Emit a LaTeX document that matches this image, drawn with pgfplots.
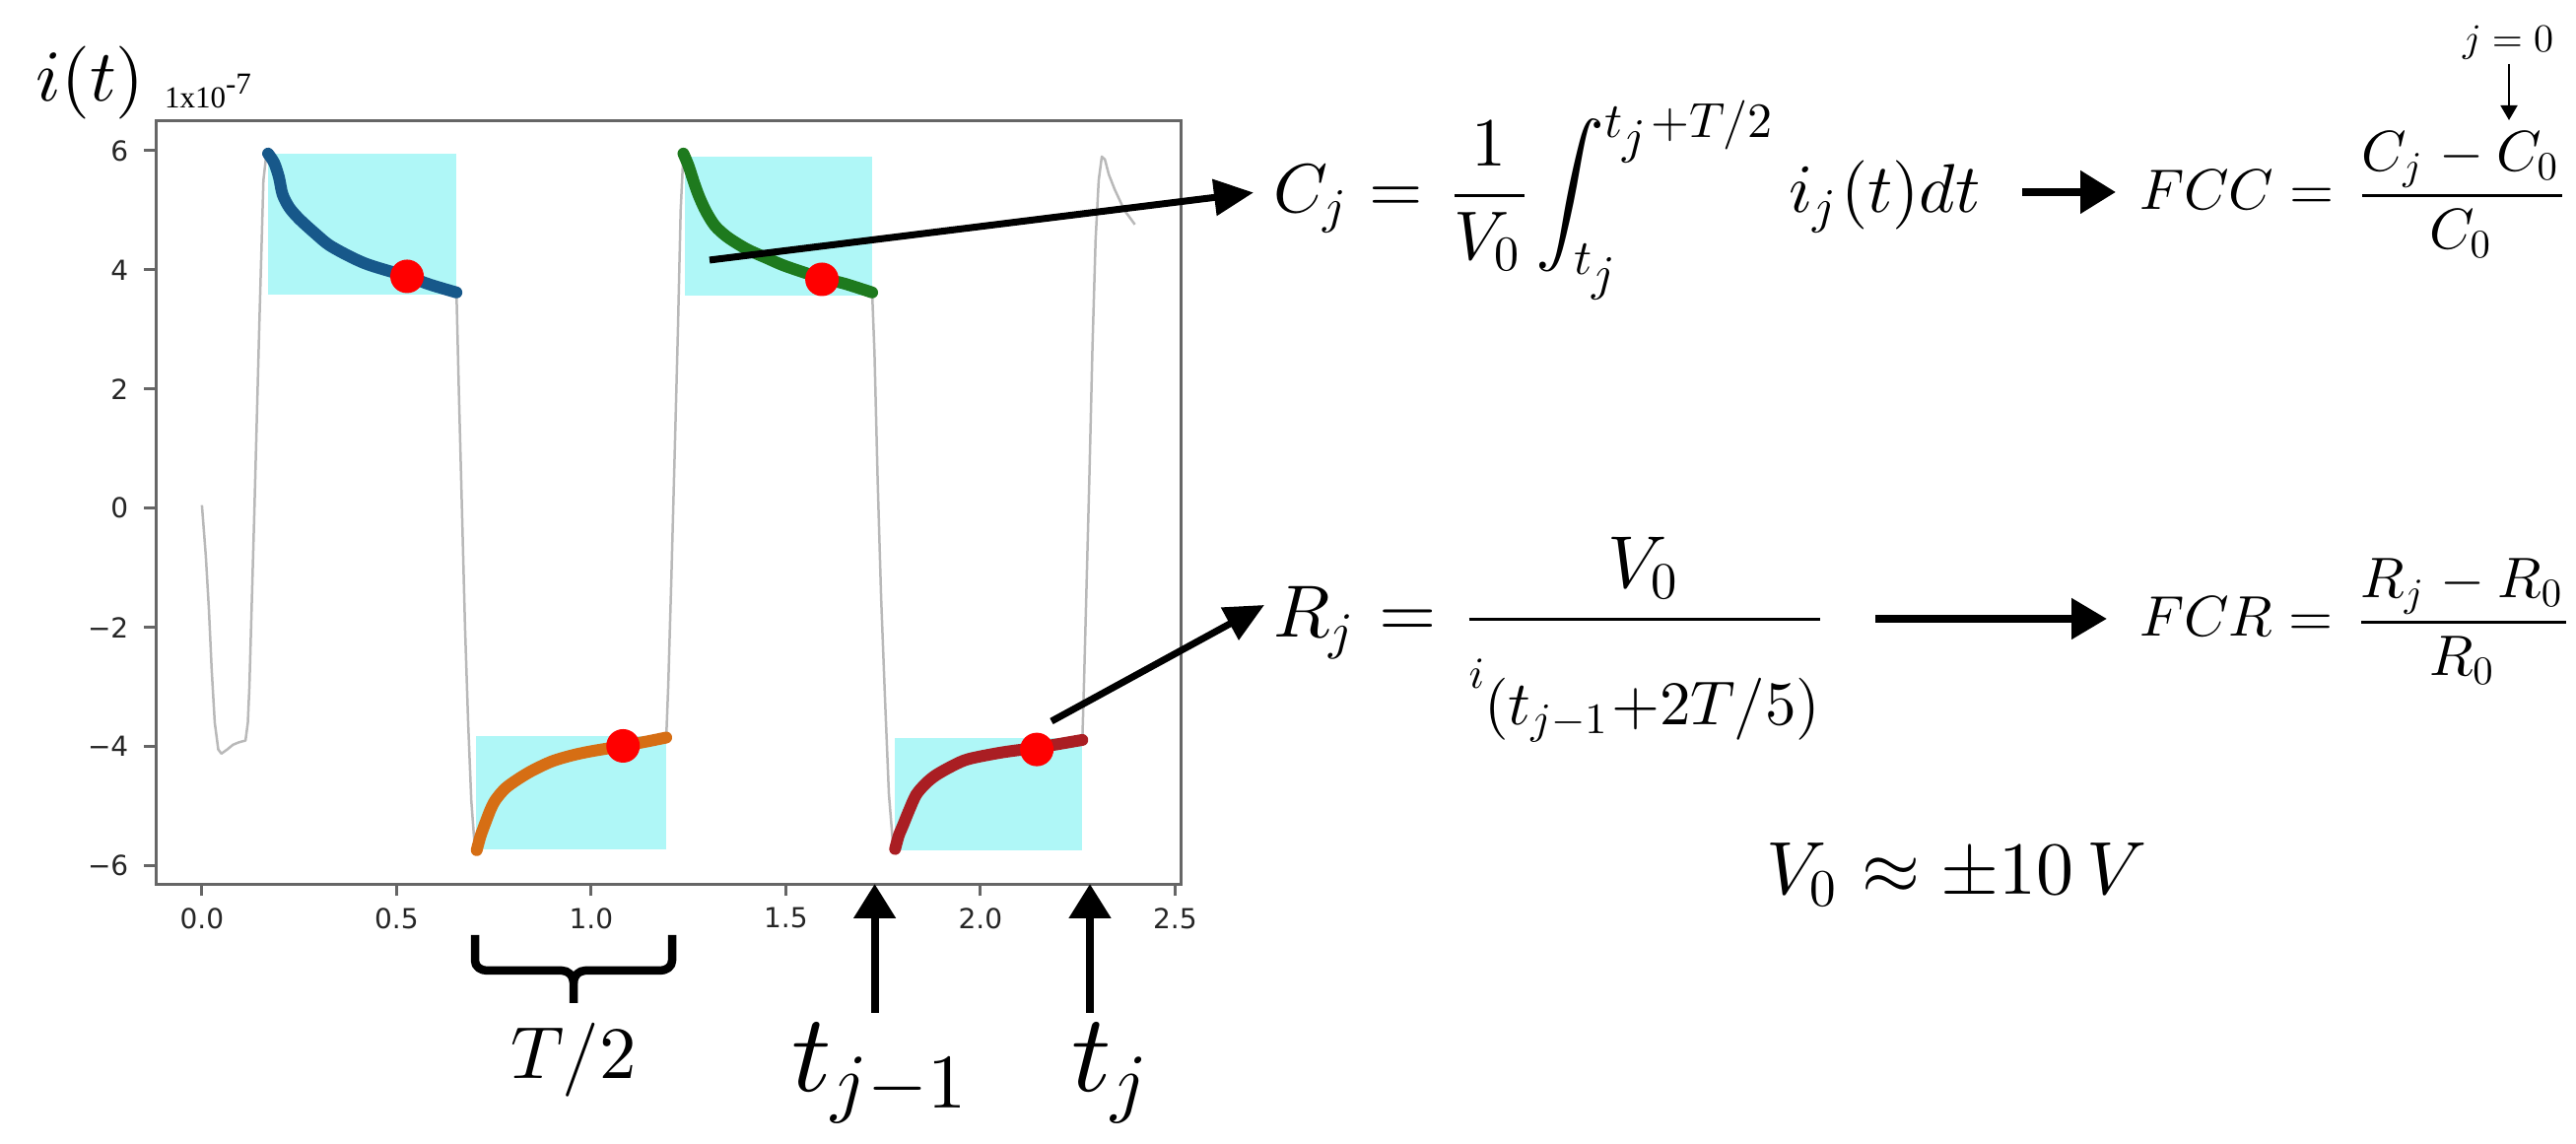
\documentclass[border=0pt]{standalone}
\usepackage[no-math]{fontspec}
\usepackage{amsmath}
\usepackage{pgfplots}
\pgfplotsset{compat=1.18}
\usetikzlibrary{arrows.meta}

% one design size for every math size, as matplotlib's mathtext does
\DeclareFontShape{OT1}{cmr}{m}{n}{<->cmr10}{}
\DeclareFontShape{OML}{cmm}{m}{it}{<->cmmi10}{}
\DeclareFontShape{OMS}{cmsy}{m}{n}{<->cmsy10}{}
\DeclareFontShape{OMX}{cmex}{m}{n}{<->cmex10}{}

\newfontfamily\tickfont{DejaVu Sans}
\newfontfamily\timesfont{Liberation Serif}

\definecolor{boxcyan}{RGB}{175,247,247}
\definecolor{cblue}{RGB}{23,88,138}
\definecolor{corange}{RGB}{214,110,20}
\definecolor{cgreen}{RGB}{30,122,30}
\definecolor{cred}{RGB}{170,30,35}
\definecolor{cgrey}{RGB}{185,185,185}

\begin{document}
\begin{tikzpicture}
\begin{axis}[
    at={(15.83pt,26.37pt)}, anchor=south west,
    width=104pt, height=77.53pt, scale only axis,
    xmin=-0.118, xmax=2.515, ymin=-6.31, ymax=6.51,
    axis line style={draw=black!60, line width=0.3pt},
    tick align=outside, xtick pos=left, ytick pos=left,
    major tick length=1.2pt,
    tick style={black!60, line width=0.3pt},
    xtick={0,0.5,1,1.5,2,2.5},
    xticklabels={0.0,0.5,1.0,1.5,2.0,2.5},
    ytick={-6,-4,-2,0,2,4,6},
    yticklabels={−6,−4,−2,0,2,4,6},
    ticklabel style={font=\tickfont\fontsize{2.8}{3}\selectfont, text=black!85},
    yticklabel style={anchor=east, inner sep=0pt, xshift=-1.4pt},
    xticklabel style={anchor=north, inner sep=0pt, yshift=-1.0pt},
]
% shaded half periods
\addplot[fill=boxcyan, draw=none] coordinates {(0.169,3.59) (0.654,3.59) (0.654,5.95) (0.169,5.95)};
\addplot[fill=boxcyan, draw=none] coordinates {(0.705,-5.73) (1.193,-5.73) (1.193,-3.82) (0.705,-3.82)};
\addplot[fill=boxcyan, draw=none] coordinates {(1.241,3.57) (1.722,3.57) (1.722,5.90) (1.241,5.90)};
\addplot[fill=boxcyan, draw=none] coordinates {(1.781,-5.74) (2.262,-5.74) (2.262,-3.86) (1.781,-3.86)};

% full current trace
\addplot[cgrey, line width=0.25pt, line join=round] coordinates {
 (0,0.05) (0.01,-0.8) (0.018,-1.7) (0.025,-2.7) (0.033,-3.6) (0.042,-4.05) (0.05,-4.12)
 (0.065,-4.05) (0.08,-3.97) (0.095,-3.93) (0.112,-3.90) (0.118,-3.6) (0.122,-3.0)
 (0.135,0) (0.148,3.2) (0.158,5.5) (0.166,5.97) (0.173,5.93)
 (0.198,5.55) (0.224,5.05) (0.291,4.61) (0.418,4.11) (0.527,3.89) (0.654,3.62)
 (0.66,2.0) (0.668,0) (0.676,-2.0) (0.684,-3.6) (0.692,-4.9) (0.70,-5.6) (0.706,-5.74)
 (0.755,-4.89) (0.899,-4.25) (1.082,-3.99) (1.193,-3.85)
 (1.198,-3.0) (1.206,-1.2) (1.215,1.0) (1.223,3.0) (1.23,5.0) (1.237,5.95)
 (1.318,4.74) (1.50,4.06) (1.722,3.62)
 (1.728,2.6) (1.736,0.5) (1.745,-1.5) (1.755,-3.2) (1.765,-4.8) (1.775,-5.6) (1.781,-5.72)
 (1.835,-4.81) (1.970,-4.21) (2.145,-4.02) (2.262,-3.89)
 (2.266,-3.0) (2.272,-1.5) (2.28,0.5) (2.288,2.7) (2.296,4.5) (2.304,5.5) (2.312,5.9)
 (2.32,5.85) (2.33,5.6) (2.345,5.35) (2.37,5.0) (2.397,4.76)
};

% highlighted half periods
\addplot[cblue, line width=1.2pt, line cap=round, smooth] coordinates {
 (0.170,5.95) (0.186,5.79) (0.198,5.55) (0.207,5.27) (0.224,5.05) (0.249,4.86)
 (0.291,4.61) (0.333,4.39) (0.418,4.11) (0.527,3.89) (0.587,3.75) (0.654,3.62)
};
\addplot[corange, line width=1.2pt, line cap=round, smooth] coordinates {
 (0.706,-5.74) (0.716,-5.5) (0.730,-5.25) (0.742,-5.05) (0.755,-4.89) (0.78,-4.70)
 (0.814,-4.54) (0.85,-4.40) (0.899,-4.25) (0.95,-4.15) (1.0,-4.08) (1.082,-3.99)
 (1.14,-3.92) (1.193,-3.85)
};
\addplot[cgreen, line width=1.2pt, line cap=round, smooth] coordinates {
 (1.237,5.95) (1.25,5.75) (1.265,5.45) (1.278,5.22) (1.295,4.98) (1.318,4.74)
 (1.35,4.55) (1.399,4.35) (1.45,4.20) (1.50,4.06) (1.593,3.86) (1.65,3.77) (1.722,3.62)
};
\addplot[cred, line width=1.2pt, line cap=round, smooth] coordinates {
 (1.781,-5.72) (1.79,-5.5) (1.802,-5.31) (1.815,-5.1) (1.835,-4.81) (1.86,-4.62)
 (1.886,-4.48) (1.93,-4.32) (1.970,-4.21) (2.055,-4.10) (2.145,-4.02) (2.20,-3.96)
 (2.262,-3.89)
};

% sampling points
\addplot[only marks, mark=*, mark size=1.5pt, color=red] coordinates {
 (0.527,3.89) (1.082,-3.99) (1.593,3.84) (2.145,-4.05)
};
\end{axis}

\begin{scope}[x=0.1pt, y=0.1pt]
\path[use as bounding box] (0,0) rectangle (2614,1161);

% axis captions
\node[anchor=base west, inner sep=0pt, font=\fontsize{7.4}{9}\selectfont] at (35,1058) {$i(t)$};
\node[anchor=base west, inner sep=0pt, font=\timesfont\fontsize{3.1}{3.5}\selectfont] at (165,1051) {1x10\raisebox{1.4pt}{-7}};

% T/2 brace
\draw[line width=0.85pt, line join=round]
  (482,212) -- (482,186) to[out=-90,in=180] (494,176) -- (570,176) to[out=0,in=90] (582,164) -- (582,143);
\draw[line width=0.85pt, line join=round]
  (682,212) -- (682,186) to[out=-90,in=0] (670,176) -- (594,176) to[out=180,in=90] (582,164);
\node[anchor=base, inner sep=0pt, font=\fontsize{7.5}{9}\selectfont] at (582,66) {$T/2$};

% period markers
\draw[line width=0.8pt, -{Triangle[length=3.5pt,width=4.1pt]}] (887.6,133) -- (887.6,264);
\draw[line width=0.8pt, -{Triangle[length=3.5pt,width=4.1pt]}] (1106,133) -- (1106,264);
\node[anchor=base west, inner sep=0pt, font=\fontsize{11.2}{13}\selectfont] at (801,53) {$t_{j-1}$};
\node[anchor=base west, inner sep=0pt, font=\fontsize{11.2}{13}\selectfont] at (1085,53) {$t_j$};

% pointers to the formulas
\draw[line width=0.7pt, -{Triangle[length=4pt,width=3.6pt]}] (720,897) -- (1272,965.5);
\draw[line width=0.7pt, -{Triangle[length=4pt,width=3.6pt]}] (1067,429) -- (1283,547);

% capacitance
\node[anchor=base west, inner sep=0pt, font=\fontsize{7.0}{9}\selectfont] at (1290,945)
  {$\displaystyle C_j = \frac{1}{V_0}\!\int_{t_j}^{t_j+T/2} i_j(t)dt$};
\draw[line width=0.8pt, -{Triangle[length=3.6pt,width=4.2pt]}] (2052,966) -- (2147,966);
\node[anchor=base west, inner sep=0pt, font=\fontsize{5.8}{7}\selectfont] at (2169,948)
  {$\displaystyle FCC = \frac{C_j - C_0}{C_0}$};
\node[anchor=base west, inner sep=0pt, font=\fontsize{4}{5}\selectfont] at (2497,1108) {$j = 0$};
\draw[line width=0.2pt, -{Triangle[length=1.5pt,width=1.7pt]}] (2546,1096) -- (2546,1039);

% resistance
\node[anchor=base west, inner sep=0pt, font=\fontsize{7.5}{9}\selectfont] at (1290,514)
  {$\displaystyle R_j = \frac{V_0}{\mbox{\fontsize{4.5}{5}\selectfont$i$}\raisebox{-3.7pt}{\fontsize{6.3}{7}\selectfont$(t_{j-1}{+}2T/5)$}}$};
\draw[line width=0.8pt, -{Triangle[length=3.6pt,width=4pt]}] (1903,533) -- (2138,533);
\node[anchor=base west, inner sep=0pt, font=\fontsize{5.8}{7}\selectfont] at (2169,515)
  {$\displaystyle FCR = \frac{R_j - R_0}{R_0}$};

\node[anchor=base west, inner sep=0pt, font=\fontsize{7.6}{9}\selectfont] at (1790,253)
  {$V_0 \approx \pm 10\,V$};
\end{scope}
\end{tikzpicture}
\end{document}
